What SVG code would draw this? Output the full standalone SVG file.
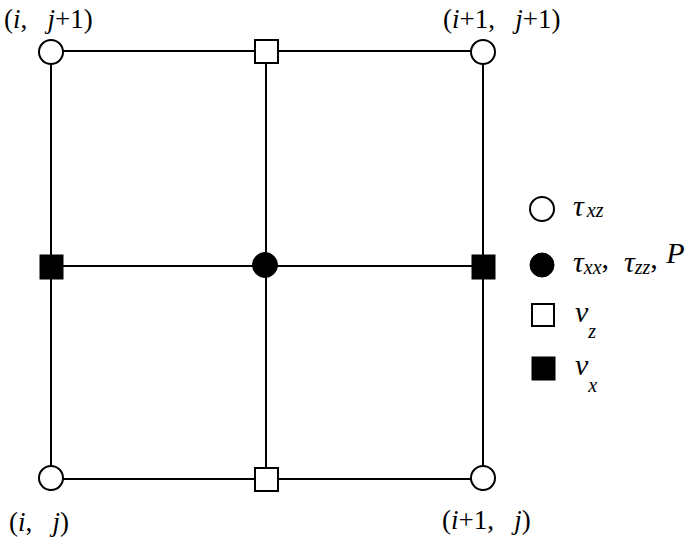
<svg xmlns="http://www.w3.org/2000/svg" width="700" height="541" viewBox="0 0 700 541">
<style>
.ln{stroke:#000;stroke-width:2;fill:none}
.oc{fill:#fff;stroke:#000;stroke-width:2}
.fc{fill:#000;stroke:#000;stroke-width:1}
.os{fill:#fff;stroke:#000;stroke-width:2}
.fs{fill:#000;stroke:#000;stroke-width:1}
text{font-family:"Liberation Serif","Times New Roman",serif;font-size:27px;fill:#000}
.it{font-style:italic}
.lg{font-size:30px}
.sub{font-size:20px;font-style:italic}
</style>
<rect width="700" height="541" fill="#fff"/>
<g id="connectors">
<rect class="ln" x="51" y="51" width="432" height="428"/>
<line class="ln" x1="266" y1="51" x2="266" y2="479"/>
<line class="ln" x1="51" y1="266" x2="483" y2="266"/>
</g>
<g id="n-tl"><circle class="oc" cx="51" cy="52" r="12"/></g>
<g id="n-tr"><circle class="oc" cx="483" cy="52" r="12"/></g>
<g id="n-bl"><circle class="oc" cx="51" cy="478" r="12"/></g>
<g id="n-br"><circle class="oc" cx="483" cy="478" r="12"/></g>
<g id="n-top"><rect class="os" x="255" y="40" width="23" height="23"/></g>
<g id="n-bot"><rect class="os" x="255" y="468" width="23" height="23"/></g>
<g id="n-center"><circle class="fc" cx="265" cy="265" r="12.5"/></g>
<g id="n-left"><rect class="fs" x="40" y="255" width="23" height="24"/></g>
<g id="n-right"><rect class="fs" x="472" y="255" width="23" height="24"/></g>
<g id="labels">
<text x="4" y="28">(<tspan class="it">i</tspan>,&#160;&#160;&#160;<tspan class="it">j</tspan>+1)</text>
<text x="443" y="28">(<tspan class="it">i</tspan>+1,&#160;&#160;&#160;<tspan class="it">j</tspan>+1)</text>
<text x="9" y="531">(<tspan class="it">i</tspan>,&#160;&#160;&#160;<tspan class="it">j</tspan>)</text>
<text x="442" y="529">(<tspan class="it">i</tspan>+1,&#160;&#160;&#160;<tspan class="it">j</tspan>)</text>
</g>
<g id="legend">
<circle class="oc" cx="542" cy="209" r="12"/>
<text x="573" y="216" class="it lg">τ<tspan class="sub" dx="3" dy="1">xz</tspan></text>
<circle class="fc" cx="542" cy="265" r="12"/>
<text x="573" y="272" class="it lg">τ<tspan class="sub" dy="2">xx</tspan><tspan dy="-6" font-style="normal">,</tspan><tspan dy="4">&#160;&#160;τ</tspan><tspan class="sub" dy="2">zz</tspan><tspan dy="-6" font-style="normal">,</tspan><tspan dy="-5" dx="1"> P</tspan></text>
<rect class="os" x="532" y="304" width="22" height="22"/>
<text x="575" y="322" class="it lg">v<tspan class="sub" dy="16">z</tspan></text>
<rect class="fs" x="532" y="357" width="23" height="23"/>
<text x="575" y="375" class="it lg">v<tspan class="sub" dy="17">x</tspan></text>
</g>
</svg>
